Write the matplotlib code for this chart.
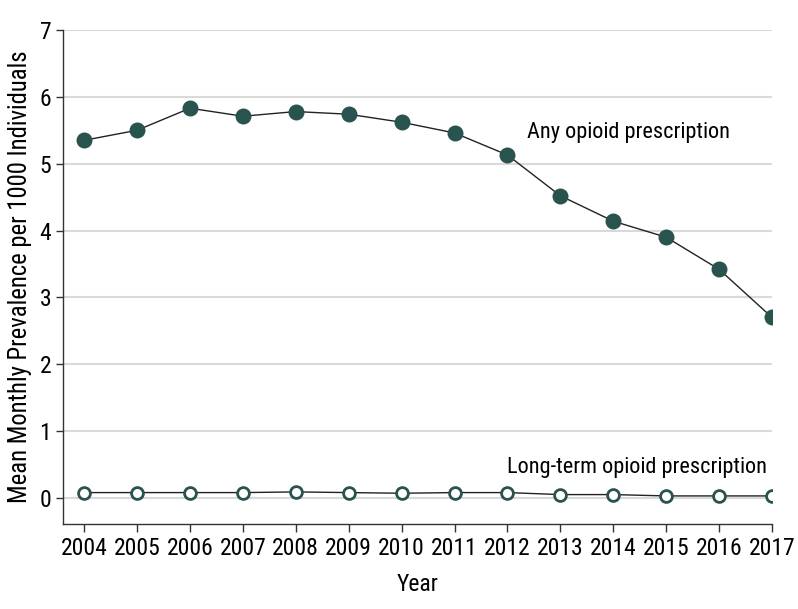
import matplotlib
matplotlib.use("Agg")
import matplotlib.pyplot as plt
from matplotlib import font_manager

years = [2004, 2005, 2006, 2007, 2008, 2009, 2010, 2011, 2012, 2013, 2014, 2015, 2016, 2017]
any_opioid = [5.35, 5.50, 5.83, 5.71, 5.78, 5.74, 5.62, 5.46, 5.13, 4.52, 4.14, 3.90, 3.42, 2.70]
long_term = [0.08, 0.08, 0.08, 0.08, 0.09, 0.08, 0.07, 0.08, 0.08, 0.05, 0.05, 0.03, 0.03, 0.03]
yticks = [0, 1, 2, 3, 4, 5, 6, 7]

fonts = font_manager.fontManager.ttflist
cands = [f for f in fonts
         if ("narrow" in f.fname.lower() or "condensed" in f.fname.lower())
         and f.style == "normal" and f.weight in (400, "normal", "regular")
         and "semi" not in f.fname.lower() and "extra" not in f.fname.lower()]
fp = None
for pref in ["LiberationSansNarrow-Regular", "RobotoCondensed-Regular", "DejaVuSansCondensed.ttf", "OpenSans_Condensed-Regular", "NotoSans-Condensed"]:
    for f in cands:
        if pref.lower() in f.fname.lower():
            fp = f.fname
            break
    if fp:
        break
if fp is None and cands:
    fp = cands[0].fname

def fprop(size):
    if fp:
        return font_manager.FontProperties(fname=fp, size=size)
    return font_manager.FontProperties(family=["Roboto", "DejaVu Sans"], size=size)

teal = "#28534f"
fig = plt.figure(figsize=(7.98, 6.09), dpi=100)
ax = fig.add_axes([63/798, 1-524/609, (772-63)/798, (524-30)/609])

ax.plot(years, any_opioid, color="#222222", lw=1, zorder=3)
ax.plot(years, any_opioid, 'o', ms=11.5, color=teal, mew=0, zorder=4)
ax.plot(years, long_term, color="#222222", lw=1, zorder=3)
ax.plot(years, long_term, 'o', ms=8.5, mfc="white", mec=teal, mew=2, zorder=4)

ax.set_xlim(2003.6, 2017)
ax.set_ylim(-0.39, 7)
ax.set_yticks(yticks)
ax.set_xticks(years)
ax.yaxis.grid(True, color="#d9d9d9", lw=1.5)
ax.set_axisbelow(True)
for s in ["top", "right"]:
    ax.spines[s].set_visible(False)
for s in ["left", "bottom"]:
    ax.spines[s].set_color("#333333")
    ax.spines[s].set_linewidth(1)
ax.tick_params(axis="both", color="#333333", length=6, width=1)
ax.tick_params(axis="y", length=5)
for lab in ax.get_xticklabels() + ax.get_yticklabels():
    lab.set_fontproperties(fprop(17))

ax.set_xlabel("Year", fontproperties=fprop(17), labelpad=9)
ax.set_ylabel("Mean Monthly Prevalence per 1000 Individuals", fontproperties=fprop(17.7), labelpad=5)

ax.text(2012.37, 5.46, "Any opioid prescription", fontproperties=fprop(16), ha="left", va="center")
ax.text(2016.9, 0.46, "Long-term opioid prescription", fontproperties=fprop(16), ha="right", va="center")

fig.savefig("out.png", dpi=100)
